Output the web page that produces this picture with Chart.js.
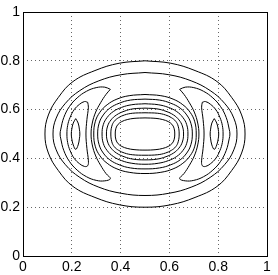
<!DOCTYPE html>
<html>
<head>
<meta charset="utf-8">
<script src="https://cdn.jsdelivr.net/npm/chart.js@4"></script>
<style>
  body { margin: 0; background: #fff; }
</style>
</head>
<body>
<canvas id="contour" width="278" height="275"></canvas>
<script>
// tick positions and their labels on both axes
const tickValues = [0, 0.2, 0.4, 0.6, 0.8, 1];
const tickLabels = ['0', '0.2', '0.4', '0.6', '0.8', '1'];

// contour lines, [x, y] in data units
const outer1 = [[.5,.8],[.394,.79],[.295,.76],[.205,.715],[.145,.65],[.104,.578],[.09,.5],[.104,.422],[.145,.35],[.205,.285],[.295,.24],[.394,.21],[.5,.2],[.606,.21],[.705,.24],[.795,.285],[.855,.35],[.896,.422],[.91,.5],[.896,.578],[.855,.65],[.795,.715],[.705,.76],[.606,.79],[.5,.8]];
const outer2 = [[.5,.752],[.402,.743],[.311,.718],[.233,.678],[.174,.626],[.136,.565],[.123,.5],[.136,.435],[.174,.374],[.233,.322],[.311,.282],[.402,.257],[.5,.248],[.598,.257],[.689,.282],[.767,.322],[.826,.374],[.864,.435],[.877,.5],[.864,.565],[.826,.626],[.767,.678],[.689,.718],[.598,.743],[.5,.752]];

const ring1 = [[.5,.662],[.435,.657],[.385,.643],[.345,.62],[.315,.589],[.296,.55],[.29,.5],[.296,.45],[.315,.411],[.345,.38],[.385,.357],[.435,.343],[.5,.338],[.565,.343],[.615,.357],[.655,.38],[.685,.411],[.704,.45],[.71,.5],[.704,.55],[.685,.589],[.655,.62],[.615,.643],[.565,.657],[.5,.662]];
const ring2 = [[.5,.643],[.44,.639],[.394,.626],[.356,.606],[.329,.578],[.312,.544],[.306,.5],[.312,.456],[.329,.422],[.356,.394],[.394,.374],[.44,.361],[.5,.357],[.56,.361],[.606,.374],[.644,.394],[.671,.422],[.688,.456],[.694,.5],[.688,.544],[.671,.578],[.644,.606],[.606,.626],[.56,.639],[.5,.643]];
const ring3 = [[.5,.624],[.446,.62],[.404,.609],[.37,.592],[.345,.568],[.329,.538],[.324,.5],[.329,.462],[.345,.432],[.37,.408],[.404,.391],[.446,.38],[.5,.376],[.554,.38],[.596,.391],[.63,.408],[.655,.432],[.671,.462],[.676,.5],[.671,.538],[.655,.568],[.63,.592],[.596,.609],[.554,.62],[.5,.624]];
const ring4 = [[.5,.606],[.451,.603],[.414,.593],[.383,.578],[.361,.558],[.347,.533],[.342,.5],[.347,.467],[.361,.442],[.383,.422],[.414,.407],[.451,.397],[.5,.394],[.549,.397],[.586,.407],[.617,.422],[.639,.442],[.653,.467],[.658,.5],[.653,.533],[.639,.558],[.617,.578],[.586,.593],[.549,.603],[.5,.606]];
const ring5 = [[.5,.587],[.448,.585],[.416,.578],[.392,.567],[.374,.552],[.364,.532],[.36,.5],[.364,.468],[.374,.448],[.392,.433],[.416,.422],[.448,.415],[.5,.413],[.552,.415],[.584,.422],[.608,.433],[.626,.448],[.636,.468],[.64,.5],[.636,.532],[.626,.552],[.608,.567],[.584,.578],[.552,.585],[.5,.587]];
const ring6 = [[.5,.566],[.455,.564],[.427,.559],[.405,.551],[.39,.54],[.381,.524],[.378,.5],[.381,.476],[.39,.46],[.405,.449],[.427,.441],[.455,.436],[.5,.434],[.545,.436],[.573,.441],[.595,.449],[.61,.46],[.619,.476],[.622,.5],[.619,.524],[.61,.54],[.595,.551],[.573,.559],[.545,.564],[.5,.566]];

const bigLobeLeft = [[.358,.683],[.335,.692],[.3,.69],[.26,.675],[.222,.648],[.19,.612],[.167,.567],[.155,.52],[.152,.5],[.155,.48],[.167,.433],[.19,.388],[.222,.352],[.26,.325],[.3,.31],[.335,.308],[.358,.317],[.34,.338],[.318,.372],[.298,.41],[.284,.455],[.279,.5],[.284,.545],[.298,.59],[.318,.628],[.34,.662],[.358,.683]];
const bigLobeRight = [[.642,.683],[.665,.692],[.7,.69],[.74,.675],[.778,.648],[.81,.612],[.833,.567],[.845,.52],[.848,.5],[.845,.48],[.833,.433],[.81,.388],[.778,.352],[.74,.325],[.7,.31],[.665,.308],[.642,.317],[.66,.338],[.682,.372],[.702,.41],[.716,.455],[.721,.5],[.716,.545],[.702,.59],[.682,.628],[.66,.662],[.642,.683]];
const midLobeLeft = [[.265,.63],[.252,.633],[.232,.622],[.21,.6],[.193,.568],[.183,.535],[.18,.5],[.183,.465],[.193,.432],[.21,.4],[.232,.378],[.252,.367],[.265,.37],[.268,.39],[.262,.44],[.258,.5],[.262,.56],[.268,.61],[.265,.63]];
const midLobeRight = [[.735,.63],[.748,.633],[.768,.622],[.79,.6],[.807,.568],[.817,.535],[.82,.5],[.817,.465],[.807,.432],[.79,.4],[.768,.378],[.748,.367],[.735,.37],[.732,.39],[.738,.44],[.742,.5],[.738,.56],[.732,.61],[.735,.63]];
const peakLeft = [[.216,.563],[.206,.545],[.2,.52],[.198,.5],[.2,.48],[.206,.455],[.216,.437],[.226,.455],[.231,.48],[.233,.5],[.231,.52],[.226,.545],[.216,.563]];
const peakRight = [[.784,.563],[.794,.545],[.8,.52],[.802,.5],[.8,.48],[.794,.455],[.784,.437],[.774,.455],[.769,.48],[.767,.5],[.769,.52],[.774,.545],[.784,.563]];

const contours = [outer1, outer2, ring1, ring2, ring3, ring4, ring5, ring6,
  bigLobeLeft, bigLobeRight, midLobeLeft, midLobeRight, peakLeft, peakRight];

const boxFrame = {
  id: 'boxFrame',
  afterDraw(chart) {
    const { ctx, chartArea } = chart;
    ctx.save();
    ctx.strokeStyle = '#000';
    ctx.lineWidth = 1;
    ctx.strokeRect(Math.round(chartArea.left) + 0.5, Math.round(chartArea.top) + 0.5,
      Math.round(chartArea.right - chartArea.left), Math.round(chartArea.bottom - chartArea.top));
    ctx.restore();
  }
};

function axis(fitKey, fitSize) {
  return {
    type: 'linear',
    min: 0,
    max: 1,
    afterBuildTicks: s => { s.ticks = tickValues.map(v => ({ value: v })); },
    afterFit: s => { s[fitKey] = fitSize; },
    grid: { color: 'rgba(0,0,0,0.6)', lineWidth: 1, drawTicks: false },
    border: { display: false, dash: [1, 3] },
    ticks: {
      color: '#000',
      padding: 3,
      font: { family: 'Liberation Sans', size: 14 },
      callback: (v, i) => tickLabels[i]
    }
  };
}

new Chart(document.getElementById('contour'), {
  type: 'scatter',
  data: {
    datasets: contours.map(pts => ({
      data: pts.map(([x, y]) => ({ x, y })),
      showLine: true,
      borderColor: '#000',
      borderWidth: 1,
      pointRadius: 0,
      tension: 0.4,
      fill: false
    }))
  },
  options: {
    responsive: false,
    animation: false,
    layout: { padding: { top: 12, right: 11, left: 0, bottom: 0 } },
    plugins: { legend: { display: false }, tooltip: { enabled: false } },
    scales: {
      x: axis('height', 19),
      y: axis('width', 23)
    }
  },
  plugins: [boxFrame]
});
</script>
</body>
</html>
